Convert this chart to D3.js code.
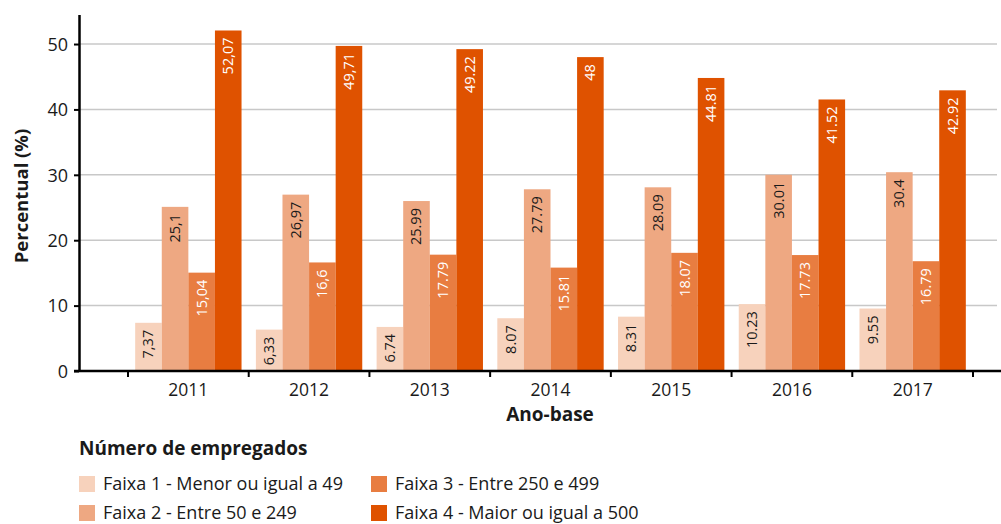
<!DOCTYPE html>
<html>
<head>
<meta charset="utf-8">
<script src="https://cdn.jsdelivr.net/npm/d3@7"></script>
<style>
  body { margin: 0; background: #fff; }
  text { font-family: "Open Sans", sans-serif; }
</style>
</head>
<body>
<script>
let width = 1001
let height = 524

// data
let years = ['2011', '2012', '2013', '2014', '2015', '2016', '2017']
let seriesNames = [
  'Faixa 1 - Menor ou igual a 49',
  'Faixa 2 - Entre 50 e 249',
  'Faixa 3 - Entre 250 e 499',
  'Faixa 4 - Maior ou igual a 500'
]
let faixa1 = [7.37, 6.33, 6.74, 8.07, 8.31, 10.23, 9.55]
let faixa2 = [25.1, 26.97, 25.99, 27.79, 28.09, 30.01, 30.4]
let faixa3 = [15.04, 16.6, 17.79, 15.81, 18.07, 17.73, 16.79]
let faixa4 = [52.07, 49.71, 49.22, 48, 44.81, 41.52, 42.92]
let labels1 = ['7,37', '6,33', '6.74', '8.07', '8.31', '10.23', '9.55']
let labels2 = ['25,1', '26,97', '25.99', '27.79', '28.09', '30.01', '30.4']
let labels3 = ['15,04', '16,6', '17.79', '15.81', '18.07', '17.73', '16.79']
let labels4 = ['52,07', '49,71', '49.22', '48', '44.81', '41.52', '42.92']
let yTicks = [0, 10, 20, 30, 40, 50]

let values = [faixa1, faixa2, faixa3, faixa4]
let labels = [labels1, labels2, labels3, labels4]
let colors = ['#f7d2bc', '#eea882', '#e87d41', '#df5200']
let textColors = ['#1a1a1a', '#1a1a1a', '#ffffff', '#ffffff']

let svg = d3.select('body').append('svg')
  .attr('width', width)
  .attr('height', height)

let x0 = d3.scaleBand().domain(years).range([128, 973])
let x1 = d3.scaleBand().domain(d3.range(4)).range([0, x0.bandwidth()]).paddingOuter(0.27)
let y = d3.scaleLinear().domain([0, 54.5]).range([371, 14.6])

// gridlines
svg.append('g')
  .selectAll('line')
  .data(yTicks.slice(1))
  .join('line')
  .attr('x1', 79)
  .attr('x2', 997)
  .attr('y1', d => y(d))
  .attr('y2', d => y(d))
  .style('stroke', '#c8c8c8')
  .style('stroke-width', 1.5)

// bars
let groups = svg.append('g')
  .selectAll('g')
  .data(years)
  .join('g')
  .attr('transform', d => 'translate(' + x0(d) + ',0)')

groups.selectAll('rect')
  .data((d, i) => values.map((s, k) => ({ k: k, v: s[i], t: labels[k][i] })))
  .join('rect')
  .attr('x', d => x1(d.k))
  .attr('width', x1.bandwidth())
  .attr('y', d => y(d.v))
  .attr('height', d => y(0) - y(d.v))
  .attr('fill', d => colors[d.k])

groups.selectAll('text')
  .data((d, i) => values.map((s, k) => ({ k: k, v: s[i], t: labels[k][i] })))
  .join('text')
  .attr('transform', d => 'translate(' + (x1(d.k) + x1.bandwidth() / 2 + 5) + ',' + (y(d.v) + 7) + ') rotate(-90)')
  .attr('text-anchor', 'end')
  .style('font-size', '14.5px')
  .style('fill', d => textColors[d.k])
  .text(d => d.t)

// y axis
let yAxis = svg.append('g')
  .attr('transform', 'translate(79,0)')
  .call(d3.axisLeft(y).tickValues(yTicks).tickSize(5).tickSizeOuter(0))
yAxis.select('.domain').style('stroke', '#000').style('stroke-width', 2.5)
yAxis.selectAll('.tick line').style('stroke', '#000').style('stroke-width', 2)
yAxis.selectAll('.tick text')
  .attr('x', -11)
  .attr('dy', '0.35em')
  .style('font-size', '18px')
  .style('fill', '#1a1a1a')

// x axis
svg.append('line')
  .attr('x1', 74)
  .attr('x2', 1001)
  .attr('y1', y(0))
  .attr('y2', y(0))
  .style('stroke', '#000')
  .style('stroke-width', 2.5)

svg.append('g')
  .selectAll('line')
  .data(years.concat(['end']))
  .join('line')
  .attr('x1', (d, i) => x0.range()[0] + i * x0.step())
  .attr('x2', (d, i) => x0.range()[0] + i * x0.step())
  .attr('y1', y(0))
  .attr('y2', y(0) + 6)
  .style('stroke', '#000')
  .style('stroke-width', 2)

svg.append('g')
  .selectAll('text')
  .data(years)
  .join('text')
  .attr('x', d => x0(d) + x0.bandwidth() / 2)
  .attr('y', 396)
  .attr('text-anchor', 'middle')
  .style('font-size', '17.5px')
  .style('fill', '#1a1a1a')
  .text(d => d)

// axis titles
svg.append('text')
  .attr('x', 550)
  .attr('y', 421)
  .attr('text-anchor', 'middle')
  .style('font-size', '19px')
  .style('font-weight', 'bold')
  .style('fill', '#1a1a1a')
  .text('Ano-base')

svg.append('text')
  .attr('transform', 'translate(28,196) rotate(-90)')
  .attr('text-anchor', 'middle')
  .style('font-size', '18.5px')
  .style('font-weight', 'bold')
  .style('fill', '#1a1a1a')
  .text('Percentual (%)')

// legend
svg.append('text')
  .attr('x', 79)
  .attr('y', 455)
  .style('font-size', '19px')
  .style('font-weight', 'bold')
  .style('fill', '#1a1a1a')
  .text('Número de empregados')

let legendPos = [[79, 476], [79, 505], [371, 476], [371, 505]]

let legend = svg.append('g')
  .selectAll('g')
  .data(seriesNames)
  .join('g')
  .attr('transform', (d, i) => 'translate(' + legendPos[i][0] + ',' + legendPos[i][1] + ')')

legend.append('rect')
  .attr('width', 16)
  .attr('height', 16)
  .attr('fill', (d, i) => colors[i])

legend.append('text')
  .attr('x', 24)
  .attr('y', 14)
  .style('font-size', '18px')
  .style('fill', '#1a1a1a')
  .text(d => d)
</script>
</body>
</html>
